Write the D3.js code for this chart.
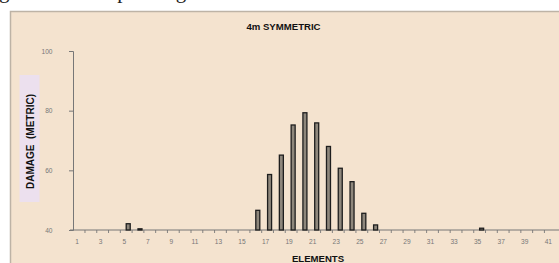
<!DOCTYPE html>
<html><head><meta charset="utf-8">
<script src="https://cdn.jsdelivr.net/npm/d3@7"></script>
<style>html,body{margin:0;padding:0;background:#fff;overflow:hidden}</style>
</head><body><svg id="c" width="559" height="263"></svg>
<script>
const caption = "g at the corresponding elements of the elements.";
const title = "4m SYMMETRIC";
const xTitle = "ELEMENTS";
const yTitle = "DAMAGE  (METRIC)";
const elements = [1,2,3,4,5,6,7,8,9,10,11,12,13,14,15,16,17,18,19,20,21,22,23,24,25,26,27,28,29,30,31,32,33,34,35,36,37,38,39,40,41];
const damage = [40,40,40,40,42.1,40.4,40,40,40,40,40,40,40,40,40,46.6,58.6,65.1,75.2,79.3,75.9,68.0,60.7,56.2,45.6,41.7,40,40,40,40,40,40,40,40,40.6,40,40,40,40,40,40];
const xTickLabels = [1,3,5,7,9,11,13,15,17,19,21,23,25,27,29,31,33,35,37,39,41];
const yTicks = [40,60,80,100];

const svg = d3.select("#c");
const W = 559, H = 263;

// caption sliver at the top
svg.append("text").attr("x", -1).attr("y", -2.5)
  .attr("font-family", "Liberation Serif, serif").attr("font-size", 21)
  .attr("fill", "#222").text(caption);

// chart background
svg.append("rect").attr("x", 10.5).attr("y", 11.5).attr("width", W).attr("height", H)
  .attr("fill", "#f4e3cf").attr("stroke", "#bdb3a6").attr("stroke-width", 1.5);

const x = d3.scaleBand().domain(elements).range([73.2, 556.2]).padding(0);
const y = d3.scaleLinear().domain([40, 100]).range([230, 51]);
const bw = x.bandwidth();

// y axis title box
svg.append("rect").attr("x", 19.5).attr("y", 75).attr("width", 20).attr("height", 127)
  .attr("fill", "#ece0ee");
svg.append("text").attr("transform", "translate(34.2,141.5) rotate(-90)")
  .attr("text-anchor", "middle").attr("font-family", "Liberation Sans, Arial, sans-serif")
  .attr("font-weight", "bold").attr("font-size", 10).attr("fill", "#111")
  .attr("xml:space", "preserve").style("white-space", "pre").text(yTitle);

// title
svg.append("text").attr("x", 283.5).attr("y", 29.5).attr("text-anchor", "middle")
  .attr("font-family", "Liberation Sans, Arial, sans-serif").attr("font-weight", "bold")
  .attr("font-size", 9.6).attr("fill", "#111").text(title);

// x title
svg.append("text").attr("x", 318).attr("y", 261.5).attr("text-anchor", "middle")
  .attr("font-family", "Liberation Sans, Arial, sans-serif").attr("font-weight", "bold")
  .attr("font-size", 9.6).attr("fill", "#111").text(xTitle);

// y axis
const yAxis = d3.axisLeft(y).tickValues(yTicks).tickSize(4).tickPadding(21);
const gy = svg.append("g").attr("transform", "translate(73,0)").call(yAxis);
gy.select(".domain").attr("stroke", "#777").attr("stroke-width", 1);
gy.selectAll(".tick line").attr("stroke", "#777");
gy.selectAll(".tick text").attr("text-anchor", "end").attr("x", -20.5)
  .attr("font-family", "Liberation Sans, Arial, sans-serif").attr("font-size", 6.6).attr("fill", "#777");

// x axis line
svg.append("line").attr("x1", 70).attr("x2", W).attr("y1", y(40)).attr("y2", y(40))
  .attr("stroke", "#777").attr("stroke-width", 1);
// x ticks at category boundaries
svg.append("g").selectAll("line").data(elements.slice(1)).join("line")
  .attr("x1", d => x(d)).attr("x2", d => x(d))
  .attr("y1", y(40)).attr("y2", y(40) + 3)
  .attr("stroke", "#777").attr("stroke-width", 0.9);
// x tick labels
svg.append("g").selectAll("text").data(xTickLabels).join("text")
  .attr("x", d => x(d) + bw / 2 - 2).attr("y", 243.5).attr("text-anchor", "middle")
  .attr("font-family", "Liberation Sans, Arial, sans-serif").attr("font-size", 6.6).attr("fill", "#777")
  .text(d => d);

// bars
svg.append("g").selectAll("rect").data(elements.map((e, i) => ({e, v: damage[i]}))).join("rect")
  .attr("x", d => x(d.e) + bw / 2)
  .attr("y", d => y(d.v))
  .attr("width", 4)
  .attr("height", d => y(40) - y(d.v))
  .attr("fill", "#8e877c").attr("stroke", "#1e1e1e").attr("stroke-width", 1.3);
</script></body></html>
